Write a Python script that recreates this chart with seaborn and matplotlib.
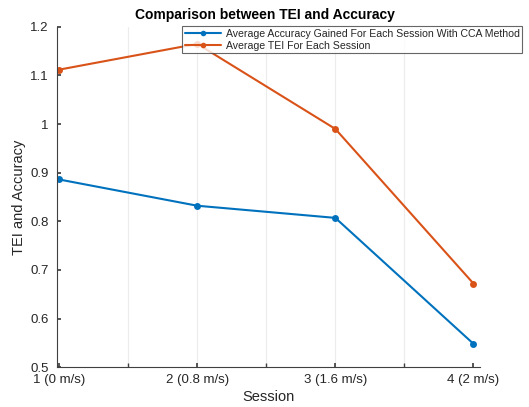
import matplotlib
matplotlib.use("Agg")
import matplotlib.pyplot as plt
import seaborn as sns
import pandas as pd

sessions = [1, 2, 3, 4]
session_labels = ["1 (0 m/s)", "2 (0.8 m/s)", "3 (1.6 m/s)", "4 (2 m/s)"]
accuracy = [0.886, 0.832, 0.807, 0.548]
tei = [1.112, 1.165, 0.990, 0.672]
series_names = ["Average Accuracy Gained For Each Session With CCA Method",
                "Average TEI For Each Session"]

sns.set_theme(style="white")
plt.rcParams["font.family"] = ["Liberation Sans", "DejaVu Sans"]

df = pd.DataFrame({
    "Session": sessions * 2,
    "Value": accuracy + tei,
    "Series": [series_names[0]] * 4 + [series_names[1]] * 4,
})

fig = plt.figure(figsize=(5.29, 4.07), dpi=100)
ax = fig.add_axes([0.108, 0.098, 0.800, 0.836])

palette = {series_names[0]: "#0072BD", series_names[1]: "#D95319"}
sns.lineplot(data=df, x="Session", y="Value", hue="Series", palette=palette,
             marker="o", markersize=5, markeredgewidth=0, linewidth=1.5,
             ax=ax, legend=False)

ax.set_xlim(0.985, 4.05)
ax.set_ylim(0.5, 1.2)
ax.set_xticks(sessions)
ax.set_xticklabels(session_labels)
ax.set_xticks([1.5, 2.5, 3.5], minor=True)
ax.set_yticks([0.5, 0.6, 0.7, 0.8, 0.9, 1.0, 1.1, 1.2])
ax.set_yticklabels(["0.5", "0.6", "0.7", "0.8", "0.9", "1", "1.1", "1.2"])

for xv in [1.5, 2, 2.5, 3, 3.5]:
    ax.axvline(xv, color="#ececec", linewidth=0.8, zorder=0)

for side in ["top", "right"]:
    ax.spines[side].set_visible(False)
for side in ["left", "bottom"]:
    ax.spines[side].set_color("#404040")
    ax.spines[side].set_linewidth(0.8)

ax.tick_params(axis="both", which="both", direction="in", length=3,
               color="#404040", labelsize=9.5, labelcolor="#262626",
               bottom=True, left=True)
ax.tick_params(axis="x", pad=5)
ax.tick_params(axis="y", pad=6)

ax.set_xlabel("Session", fontsize=10.5, color="#262626", labelpad=3)
ax.set_ylabel("TEI and Accuracy", fontsize=10.5, color="#262626", labelpad=3)
fig.text(0.5, 0.963, "Comparison between TEI and Accuracy", ha="center",
         va="center", fontsize=10, fontweight="bold", color="black")

handles = [plt.Line2D([], [], color=palette[n], marker="o", markersize=4,
                      markeredgewidth=0, linewidth=1.5) for n in series_names]
leg = fig.legend(handles, series_names, loc="upper left",
                 bbox_to_anchor=(182 / 529, 1 - 26 / 407), fontsize=7.6,
                 frameon=True, fancybox=False, borderpad=0.25,
                 labelspacing=0.2, handlelength=3.4, handletextpad=0.5,
                 borderaxespad=0)
leg.get_frame().set_edgecolor("#404040")
leg.get_frame().set_linewidth(0.8)

fig.savefig("out.png", dpi=100)
